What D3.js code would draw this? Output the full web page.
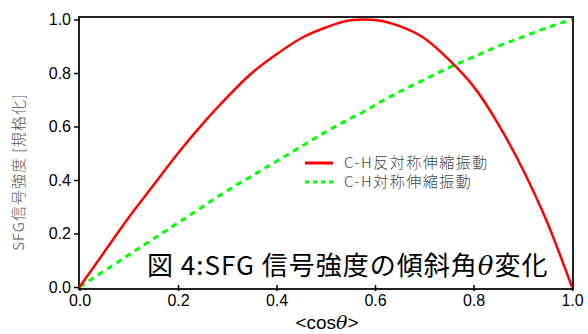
<!DOCTYPE html>
<html lang="ja">
<head>
<meta charset="utf-8">
<title>SFG chart</title>
<script src="https://cdn.jsdelivr.net/npm/d3@7"></script>
<style>
  body { margin: 0; background: #fff; }
  svg { display: block; }
</style>
</head>
<body>
<script>
// values
var cosTheta = [0, 0.05, 0.1, 0.15, 0.2, 0.25, 0.3, 0.35, 0.4, 0.45, 0.5, 0.55, 0.577, 0.6, 0.65, 0.7, 0.75, 0.8, 0.85, 0.9, 0.95, 1.0];
var asym = [0, 0.13, 0.26, 0.38, 0.50, 0.61, 0.71, 0.80, 0.87, 0.93, 0.97, 0.997, 1.0, 0.998, 0.975, 0.93, 0.85, 0.75, 0.61, 0.44, 0.24, 0];
var sym = [0, 0.06, 0.12, 0.18, 0.24, 0.30, 0.36, 0.415, 0.47, 0.525, 0.58, 0.63, 0.655, 0.68, 0.73, 0.775, 0.82, 0.86, 0.90, 0.935, 0.97, 1.0];
var ticks = [0, 0.2, 0.4, 0.6, 0.8, 1.0];
var seriesNames = ["C-H反対称伸縮振動", "C-H対称伸縮振動"];

var W = 588, H = 334;
var sans = "'Liberation Sans', Arial, sans-serif";
var cjk = "'Noto Sans CJK JP', sans-serif";
var svg = d3.select("body").append("svg").attr("width", W).attr("height", H);

var x = d3.scaleLinear().domain([0, 1]).range([79.5, 572]);
var y = d3.scaleLinear().domain([0, 1]).range([287, 19.5]);

// frame
svg.append("rect")
  .attr("x", 79).attr("y", 17)
  .attr("width", 494).attr("height", 272)
  .attr("fill", "none").attr("stroke", "#222").attr("stroke-width", 2);

// y axis
var yAxis = d3.axisLeft(y).tickValues(ticks).tickFormat(d3.format(".1f")).tickSize(5).tickSizeOuter(0);
var gy = svg.append("g").attr("transform", "translate(79,0)").call(yAxis);
gy.select(".domain").remove();
gy.selectAll("line").attr("stroke", "#000").attr("stroke-width", 1.5);
gy.selectAll("text").attr("font-family", sans).attr("font-size", 16).attr("fill", "#000").attr("x", -8);

// x axis (ticks crossing the bottom line)
var xAxis = d3.axisBottom(x).tickValues(ticks).tickFormat(d3.format(".1f")).tickSize(3).tickSizeOuter(0);
var gx = svg.append("g").attr("transform", "translate(0,289)").call(xAxis);
gx.select(".domain").remove();
gx.selectAll("line").attr("y1", -4).attr("y2", 2).attr("stroke", "#000").attr("stroke-width", 1.5);
gx.selectAll("text").attr("font-family", sans).attr("font-size", 16).attr("fill", "#000").attr("y", 6);

// curves
var line = d3.line().curve(d3.curveMonotoneX);
var ptsA = cosTheta.map(function(c, i) { return [x(c), y(asym[i])]; });
var ptsS = cosTheta.map(function(c, i) { return [x(c), y(sym[i])]; });

svg.append("path").attr("d", line(ptsS))
  .attr("fill", "none").attr("stroke", "#00ff00").attr("stroke-width", 3)
  .attr("stroke-dasharray", "6,5");
svg.append("path").attr("d", line(ptsA))
  .attr("fill", "none").attr("stroke", "#ff0000").attr("stroke-width", 2.5);

// legend
var legend = svg.append("g");
legend.append("line").attr("x1", 305).attr("x2", 333).attr("y1", 163).attr("y2", 163)
  .attr("stroke", "#ff0000").attr("stroke-width", 3);
legend.append("line").attr("x1", 305).attr("x2", 335).attr("y1", 182).attr("y2", 182)
  .attr("stroke", "#00ff00").attr("stroke-width", 3).attr("stroke-dasharray", "4,4");
legend.selectAll("text").data(seriesNames).enter().append("text")
  .attr("x", 344).attr("y", function(d, i) { return 168 + i * 19; })
  .attr("font-family", cjk).attr("font-size", 15)
  .attr("letter-spacing", 1.5)
  .attr("font-weight", 300).attr("fill", "#444")
  .text(function(d) { return d; });

// title inside plot
var title = svg.append("text").attr("x", 147).attr("y", 275)
  .attr("font-family", cjk).attr("font-size", 26)
  .attr("letter-spacing", 1).attr("fill", "#000");
title.append("tspan").text("図 4:SFG 信号強度の傾斜角");
title.append("tspan").attr("font-family", "'DejaVu Serif', serif").attr("font-style", "italic").text("θ");
title.append("tspan").text("変化");

// axis labels
var xl = svg.append("text").attr("x", 327).attr("y", 329).attr("text-anchor", "middle")
  .attr("font-family", sans).attr("font-size", 19).attr("fill", "#000");
xl.append("tspan").text("<cos");
xl.append("tspan").attr("font-family", "'DejaVu Serif', serif").attr("font-style", "italic").text("θ");
xl.append("tspan").text(">");

svg.append("text")
  .attr("transform", "translate(24,172) rotate(-90)")
  .attr("text-anchor", "middle")
  .attr("font-family", cjk).attr("font-size", 15)
  .attr("letter-spacing", 1)
  .attr("font-weight", 300).attr("fill", "#555")
  .text("SFG信号強度 [規格化]");
</script>
</body>
</html>
